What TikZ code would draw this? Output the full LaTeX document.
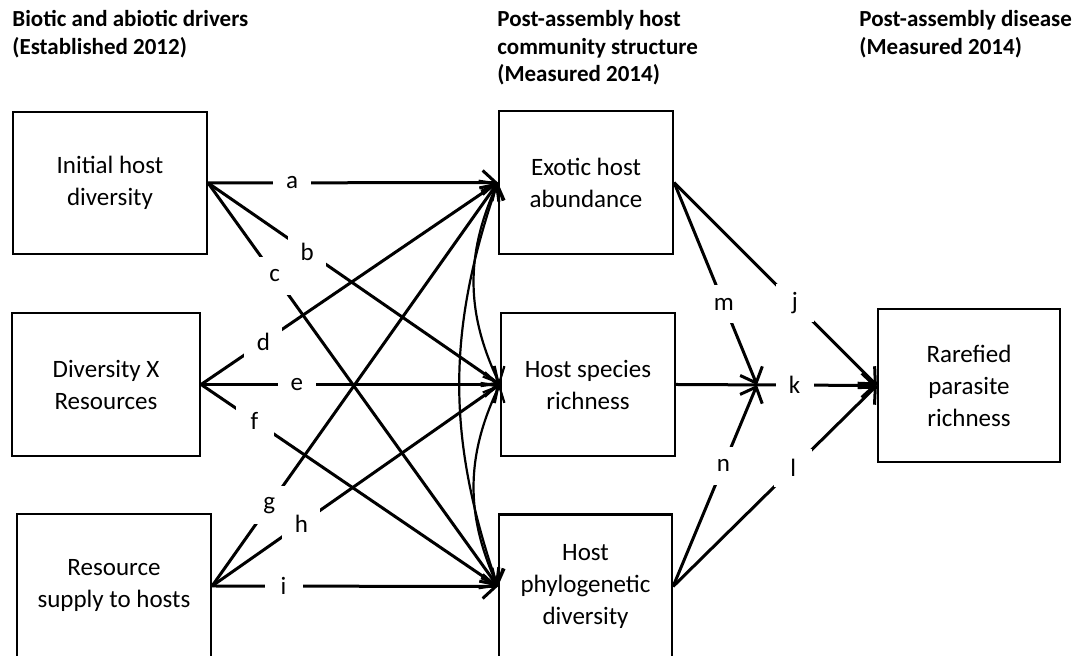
\documentclass[tikz,border=0pt]{standalone}
\usepackage{fontspec}
\setmainfont{Carlito}
\usetikzlibrary{arrows.meta}
\usetikzlibrary{positioning}
\tikzset{%
  box/.style={
    draw,
    rectangle,
    line width=1.1pt,
    align=center,
    inner sep=0pt,
    font=\fontsize{12.5}{16}\selectfont
  },
  link/.style={
    line width=1.5pt,
    -{Straight Barb[length=6.5pt,width=12pt]}
  },
  twoway/.style={
    line width=1.1pt,
    {Straight Barb[length=6.5pt,width=12pt]}-{Straight Barb[length=6.5pt,width=12pt]}
  },
  tag/.style={
    fill=white,
    inner sep=0pt,
    minimum width=19pt,
    minimum height=19pt,
    font=\fontsize{12.5}{14}\selectfont
  },
  head/.style={
    anchor=north west,
    align=left,
    inner sep=0pt,
    font=\bfseries\fontsize{11.5}{13.75}\selectfont
  },
}

\begin{document}
\begin{tikzpicture}[x=0.5pt,y=-0.5pt]
    \useasboundingbox (0,0) rectangle (1073,656);

    \node (h1) [head] at (12,10) {Biotic and abiotic drivers\\(Established 2012)};
    \node (h2) [head] at (497,10) {Post-assembly host\\community structure\\(Measured 2014)};
    \node (h3) [head] at (859,10) {Post-assembly disease\\(Measured 2014)};

    \node (div) [box,minimum width=97pt,minimum height=71pt] at (110,183)
    {Initial host\\diversity};
    \node (dxr) [box,minimum width=94pt,minimum height=71.5pt] at (106,384.5)
    {Diversity X\\Resources};
    \node (res) [box,minimum width=97pt,minimum height=72pt] at (114,586)
    {Resource\\supply to hosts};
    \node (exo) [box,minimum width=87pt,minimum height=71.5pt] at (586,182.5)
    {Exotic host\\abundance};
    \node (rich) [box,minimum width=87pt,minimum height=71.5pt] at (588,384.5)
    {Host species\\richness};
    \node (phyl) [box,minimum width=86.5pt,minimum height=72pt] at (585.5,586.5)
    {Host\\phylogenetic\\diversity};
    \node (para) [box,minimum width=91pt,minimum height=76.5pt] at (969,385.5)
    {Rarefied\\parasite\\richness};
    \coordinate (join) at (757,385);

    \draw   [link] (div.east) -- node[tag,pos=.29] {a} (exo.west);
    \draw   [link] (div.east) -- node[tag,pos=.34] {b} (rich.west);
    \draw   [link] (div.east) -- node[tag,pos=.23] {c} (phyl.west);
    \draw   [link] (dxr.east) -- node[tag,pos=.21] {d} (exo.west);
    \draw   [link] (dxr.east) -- node[tag,pos=.32] {e} (rich.west);
    \draw   [link] (dxr.east) -- node[tag,pos=.18] {f} (phyl.west);
    \draw   [link] (res.east) -- node[tag,pos=.2] {g} (exo.west);
    \draw   [link] (res.east) -- node[tag,pos=.31] {h} (rich.west);
    \draw   [link] (res.east) -- node[tag,pos=.25] {i} (phyl.west);

    \draw   [twoway] (exo.west) to[bend right=25] (rich.west);
    \draw   [twoway] (rich.west) to[bend right=25] (phyl.west);
    \draw   [twoway] (exo.west) to[bend right=19] (phyl.west);

    \draw   [link] (exo.east) -- node[tag,pos=.595] {j} (para.west);
    \draw   [link] (rich.east) -- node[tag,pos=.59] {k} (para.west);
    \draw   [link] (phyl.east) -- node[tag,pos=.59] {l} (para.west);
    \draw   [link] (exo.east) -- node[tag,pos=.6] {m} (join);
    \draw   [link] (phyl.east) -- node[tag,pos=.6] {n} (join);
\end{tikzpicture}
\end{document}
